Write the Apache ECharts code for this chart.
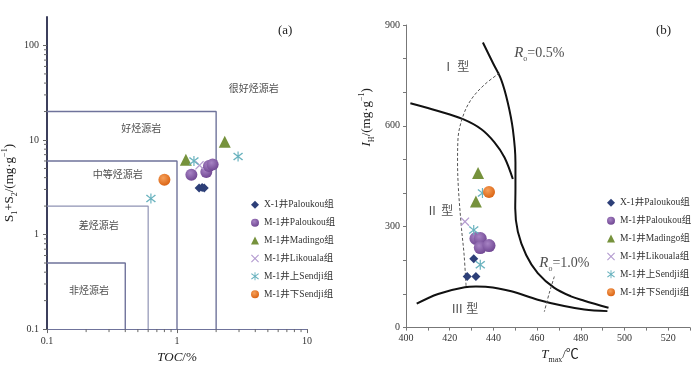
<!DOCTYPE html>
<html lang="zh">
<head>
<meta charset="UTF-8">
<title>烃源岩评价图</title>
<script src="https://cdn.jsdelivr.net/npm/echarts@6/dist/echarts.min.js"></script>
<style>
    html, body { margin: 0; padding: 0; background: #fff; }
    #container { width: 700px; height: 369px; }
</style>
</head>
<body>
<div id="container"></div>
<script>
// 图(a): TOC 与 S1+S2
var groupNames = ['X-1井Paloukou组', 'M-1井Paloukou组', 'M-1井Madingo组', 'M-1井Likouala组', 'M-1井上Sendji组', 'M-1井下Sendji组'];
var tocX1Palou = [[1.48, 3.1], [1.56, 3.15], [1.62, 3.1]];
var tocM1Palou = [[1.29, 4.3], [1.68, 4.6], [1.76, 5.3], [1.88, 5.5]];
var tocMadingo = [[1.17, 6.2], [2.33, 9.6]];
var tocLikouala = [[1.49, 5.4]];
var tocUpSendji = [[1.35, 6.0], [2.95, 6.7], [0.63, 2.4]];
var tocLowSendji = [[0.8, 3.8]];
// 评价界限
var boxPoor = [[0.1, 0.5], [0.4, 0.5], [0.4, 0.1]];
var boxFair = [[0.1, 2], [0.6, 2], [0.6, 0.1]];
var boxMedium = [[0.1, 6], [1, 6], [1, 0.1]];
var boxGood = [[0.1, 20], [2, 20], [2, 0.1]];
var leftNotes = [[3.9, 34, '很好烃源岩'], [0.53, 12.8, '好烃源岩'], [0.35, 4.2, '中等烃源岩'], [0.25, 1.22, '差烃源岩'], [0.21, 0.25, '非烃源岩']];
var logMinorX = [0.2, 0.3, 0.4, 0.5, 0.6, 0.7, 0.8, 0.9, 2, 3, 4, 5, 6, 7, 8, 9];
var logMinorY = [0.2, 0.3, 0.4, 0.5, 0.6, 0.7, 0.8, 0.9, 2, 3, 4, 5, 6, 7, 8, 9, 20, 30, 40, 50, 60, 70, 80, 90];

// 图(b): Tmax 与 IH
var tmaxX1Palou = [[428, 152], [432, 152], [431, 205]];
var tmaxM1Palou = [[432, 265], [434, 265], [434, 238], [438, 244]];
var tmaxMadingo = [[433, 460], [432, 375]];
var tmaxLikouala = [[427, 315]];
var tmaxUpSendji = [[435, 400], [431, 290], [434, 187]];
var tmaxLowSendji = [[438, 403]];
var curveTypeI = [[402, 667], [414.7, 644], [426.1, 620], [434.5, 590], [440.5, 551], [445.1, 506], [448.9, 442]];
var curveRight = [[435.2, 848], [439.8, 787], [443.6, 737], [446.6, 669], [448.9, 590], [450.1, 492], [450.1, 413], [450, 354], [451.2, 285], [455, 216], [460.3, 162], [467.9, 118], [475.5, 93], [481.6, 80], [492.7, 59]];
var curveTypeIII = [[404.9, 71], [414.7, 100], [426.9, 120], [432, 122], [437.5, 121], [448.2, 108], [460.3, 83], [472.4, 64], [481.6, 54], [492.2, 49]];
var ro05 = [[442.8, 757], [436, 723], [429.9, 679], [426.1, 629], [423.8, 561], [423.6, 492], [424, 413], [425.4, 295], [426.6, 216], [427.5, 123]];
var ro10 = [[467.9, 152], [465.6, 103], [463.3, 47]];
var rightNotes = [[422.8, 772, 'Ⅰ 型'], [415.5, 344, 'Ⅱ 型'], [426.9, 54, 'Ⅲ 型'], [461, 816, '{i|R}{s|o}{n|=0.5%}'], [472.5, 192, '{i|R}{s|o}{n|=1.0%}']];

var serif = "'Liberation Serif', 'Noto Sans CJK SC', serif";
var xShape = 'path://M1,0L5,4L9,0L10,1L6,5L10,9L9,10L5,6L1,10L0,9L4,5L0,1Z';
var starShape = 'path://M1,1L5,4.3L9,1L10,2L6,5L10,8L9,9L5,5.7L1,9L0,8L4,5L0,2Z M4.4,0L5.6,0L5.6,10L4.4,10Z';

function radial(c1, c2) {
    return { type: 'radial', x: 0.4, y: 0.35, r: 0.7, colorStops: [{ offset: 0, color: c1 }, { offset: 1, color: c2 }] };
}

var styles = [
    { symbol: 'diamond', size: 9, color: '#2d3f78' },
    { symbol: 'circle', size: 12, color: radial('#a783c4', '#6d4490') },
    { symbol: 'triangle', size: 12, color: '#76923c' },
    { symbol: xShape, size: 9, color: '#b49cd0' },
    { symbol: starShape, size: 10, color: '#6ab3bf' },
    { symbol: 'circle', size: 12, color: radial('#f6a05a', '#d9600f') }
];
var leftSets = [tocX1Palou, tocM1Palou, tocMadingo, tocLikouala, tocUpSendji, tocLowSendji];
var rightSets = [tmaxX1Palou, tmaxM1Palou, tmaxMadingo, tmaxLikouala, tmaxUpSendji, tmaxLowSendji];

var series = [];

function addLine(data, idx, color, width, type) {
    series.push({
        type: 'line', data: data, xAxisIndex: idx, yAxisIndex: idx,
        symbol: 'none', silent: true, smooth: idx === 1 ? 0.35 : false,
        lineStyle: { color: color, width: width, type: type || 'solid' },
        z: 1
    });
}
addLine(boxPoor, 0, '#6f739b', 1.4);
addLine(boxFair, 0, '#8f93b4', 1.2);
addLine(boxMedium, 0, '#6f739b', 1.4);
addLine(boxGood, 0, '#6f739b', 1.4);
addLine(curveTypeI, 1, '#111', 2);
addLine(curveRight, 1, '#111', 2);
addLine(curveTypeIII, 1, '#111', 2);
addLine(ro05, 1, '#555', 1, [3, 2]);
addLine(ro10, 1, '#555', 1, [3, 2]);

// 对数轴的次刻度
function minorTicks(values, onX) {
    series.push({
        type: 'custom', xAxisIndex: 0, yAxisIndex: 0, silent: true,
        data: values.map(function (v) { return onX ? [v, 0.1] : [0.1, v]; }),
        renderItem: function (params, api) {
            var p = api.coord([api.value(0), api.value(1)]);
            return {
                type: 'line',
                shape: onX ? { x1: p[0], y1: p[1], x2: p[0], y2: p[1] + 3 } : { x1: p[0] - 3, y1: p[1], x2: p[0], y2: p[1] },
                style: { stroke: '#666', lineWidth: 1 }
            };
        }
    });
}
minorTicks(logMinorX, true);
minorTicks(logMinorY, false);

for (var k = 0; k < groupNames.length; k++) {
    [leftSets[k], rightSets[k]].forEach(function (set, idx) {
        var st = styles[k];
        series.push({
            name: groupNames[k], type: 'scatter', data: set,
            xAxisIndex: idx, yAxisIndex: idx,
            symbol: st.symbol, symbolSize: idx === 1 && k === 1 ? 13 : st.size,
            itemStyle: { color: st.color, opacity: 1 },
            z: 5
        });
    });
}

function noteSeries(notes, idx) {
    series.push({
        type: 'scatter', xAxisIndex: idx, yAxisIndex: idx, silent: true, symbolSize: 0,
        data: notes.map(function (n) { return { value: [n[0], n[1]], name: n[2] }; }),
        label: {
            show: true, position: 'inside', formatter: '{b}', color: '#222',
            fontFamily: serif, fontSize: idx === 0 ? 10 : 12,
            rich: {
                i: { fontStyle: 'italic', fontSize: 15, fontFamily: serif, color: '#222' },
                n: { fontSize: 14, fontFamily: serif, color: '#222' },
                s: { fontSize: 8, fontFamily: serif, verticalAlign: 'bottom', lineHeight: 20, color: '#222' }
            }
        },
        z: 6
    });
}
noteSeries(leftNotes, 0);
noteSeries(rightNotes, 1);

function cleanNum(v) { return String(+(+v).toPrecision(6)); }

var nameRich = {
    i: { fontStyle: 'italic', fontSize: 13, fontFamily: serif, color: '#222' },
    n: { fontSize: 13, fontFamily: serif, color: '#222' },
    sub: { fontSize: 8, fontFamily: serif, verticalAlign: 'bottom', lineHeight: 18, color: '#222' },
    sup: { fontSize: 8, fontFamily: serif, verticalAlign: 'top', lineHeight: 18, color: '#222' }
};

var legendBase = {
    data: groupNames, orient: 'vertical', itemWidth: 8, itemHeight: 8, itemGap: 8.4,
    textStyle: { fontFamily: serif, fontSize: 9.5, color: '#333' },
    selectedMode: false
};

var chart = echarts.init(document.getElementById('container'));
chart.setOption({
    animation: false,
    grid: [
        { left: 44, top: 17, width: 263, height: 313 },
        { left: 406, top: 25, width: 284, height: 305 }
    ],
    xAxis: [{
        type: 'log', logBase: 10, min: 0.1, max: 10, gridIndex: 0,
        name: '{i|TOC}{n|/%}', nameLocation: 'middle', nameGap: 18,
        nameTextStyle: { rich: nameRich },
        axisLine: { lineStyle: { color: '#6f739b', width: 1 } },
        axisTick: { length: 4, lineStyle: { color: '#666' } },
        axisLabel: { fontFamily: serif, fontSize: 10, color: '#333', margin: 7, formatter: cleanNum },
        splitLine: { show: false }
    }, {
        type: 'value', min: 400, max: 530, interval: 10, gridIndex: 1,
        name: '{i|T}{sub|max}{n|/℃}', nameLocation: 'middle', nameGap: 17,
        nameTextStyle: { rich: nameRich, padding: [0, 0, 0, 24] },
        axisLine: { lineStyle: { color: '#777' } },
        axisTick: { length: 3, lineStyle: { color: '#777' } },
        axisLabel: { fontFamily: serif, fontSize: 10, color: '#333', margin: 6, formatter: function (v) { return v % 20 === 0 ? v : ''; } },
        splitLine: { show: false }
    }],
    yAxis: [{
        type: 'log', logBase: 10, min: 0.1, max: 200, gridIndex: 0,
        name: '{n|S}{sub|1}{n|+S}{sub|2}{n|/(mg·g}{sup|−1}{n|)}', nameLocation: 'middle', nameGap: 28,
        nameTextStyle: { rich: nameRich, padding: [0, 20, 0, 0] },
        axisLine: { lineStyle: { color: '#3c3f5c', width: 2 } },
        axisTick: { length: 4, lineStyle: { color: '#666' } },
        axisLabel: { fontFamily: serif, fontSize: 10, color: '#333', margin: 8, showMaxLabel: false, formatter: cleanNum },
        splitLine: { show: false }
    }, {
        type: 'value', min: 0, max: 900, interval: 100, gridIndex: 1,
        name: '{i|I}{sub|H}{n|/(mg·g}{sup|−1}{n|)}', nameLocation: 'middle', nameGap: 30,
        nameTextStyle: { rich: nameRich, padding: [0, 0, 0, 118] },
        axisLine: { lineStyle: { color: '#777' } },
        axisTick: { length: 3, lineStyle: { color: '#777' } },
        axisLabel: { fontFamily: serif, fontSize: 10, color: '#333', margin: 6, formatter: function (v) { return v % 300 === 0 ? v : ''; } },
        splitLine: { show: false }
    }],
    legend: [
        Object.assign({ left: 246, top: 195 }, legendBase),
        Object.assign({ left: 602, top: 193 }, legendBase)
    ],
    graphic: [
        { type: 'text', left: 278, top: 24, style: { text: '(a)', font: '13px ' + serif, fill: '#222' } },
        { type: 'text', left: 656, top: 24, style: { text: '(b)', font: '13px ' + serif, fill: '#222' } }
    ],
    series: series
});
</script>
</body>
</html>
